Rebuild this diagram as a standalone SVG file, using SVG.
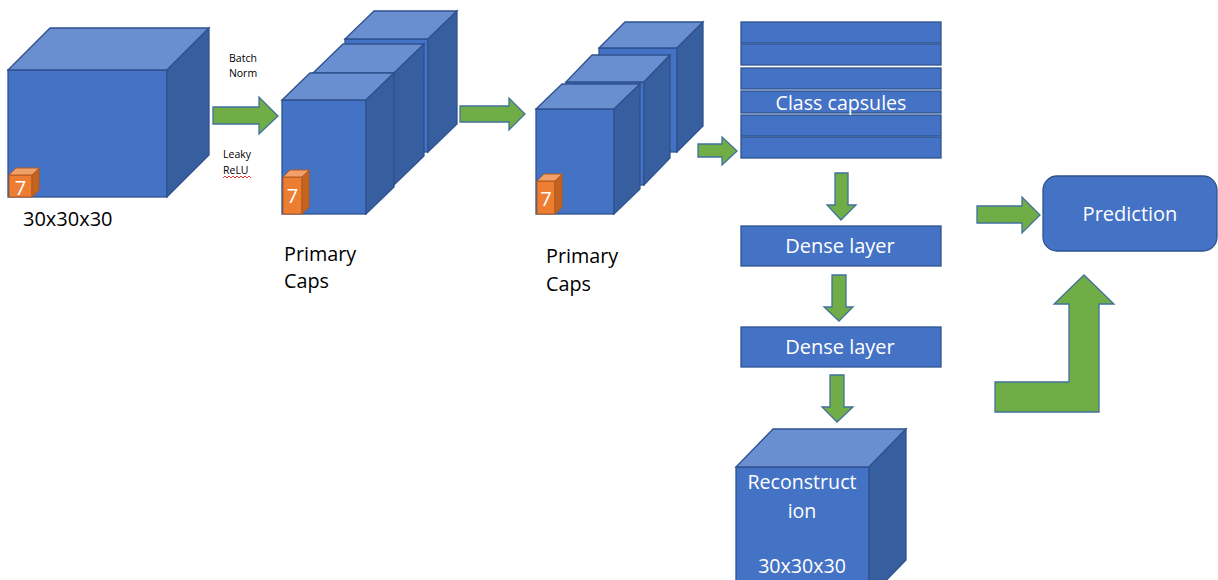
<svg xmlns="http://www.w3.org/2000/svg" width="1218" height="580" viewBox="0 0 1218 580">
<style>
.f{fill:#4472C4;stroke:#2F528F;stroke-width:1.3}
.t{fill:#6A8FD0;stroke:#2F528F;stroke-width:1.3}
.r{fill:#375E9F;stroke:#2F528F;stroke-width:1.3}
.of{fill:#ED7D31;stroke:#AE5A21;stroke-width:1}
.ot{fill:#F1A06A;stroke:#AE5A21;stroke-width:1}
.or{fill:#C4621F;stroke:#AE5A21;stroke-width:1}
.ar{fill:#70AD47;stroke:#41719C;stroke-width:1.3}
.bar{fill:#4472C4;stroke:#2F528F;stroke-width:1.3}
text{font-family:"Open Sans","Noto Sans",sans-serif}
.w{fill:#fff}
.k{fill:#000}
</style>
<rect width="1218" height="580" fill="#fff"/>

<g id="input-cube">
<rect class="f" x="8" y="70" width="159" height="127"/>
<polygon class="t" points="8,70 50,28 209,28 167,70"/>
<polygon class="r" points="167,70 209,28 209,155 167,197"/>
<rect class="of" x="9" y="175" width="23" height="22"/>
<polygon class="ot" points="9,175 16,168 39,168 32,175"/>
<polygon class="or" points="32,175 39,168 39,190 32,197"/>
<text class="w" x="20.5" y="195" font-size="20" text-anchor="middle">7</text>
<text class="k" x="23" y="226" font-size="20">30x30x30</text>
</g>

<g id="bn-label">
<text class="k" x="243" y="62" font-size="10.5" text-anchor="middle">Batch</text>
<text class="k" x="243" y="77" font-size="10.5" text-anchor="middle">Norm</text>
<text class="k" x="223" y="158" font-size="10.5">Leaky</text>
<text class="k" x="223" y="174" font-size="10.5">ReLU</text>
<path d="M223,178 l2,-2 l2,2 l2,-2 l2,2 l2,-2 l2,2 l2,-2 l2,2 l2,-2 l2,2 l2,-2 l2,2 l2,-2 l2,2" fill="none" stroke="#E02020" stroke-width="0.9"/>
</g>

<g id="primary-caps-1">
<rect class="f" x="345" y="39" width="83" height="113"/>
<polygon class="t" points="345,39 374,11 457,11 428,39"/>
<polygon class="r" points="428,39 457,11 457,124 428,152"/>
<rect class="f" x="313" y="73" width="81" height="112"/>
<polygon class="t" points="313,73 343,44 424,44 394,73"/>
<polygon class="r" points="394,73 424,44 424,156 394,185"/>
<rect class="f" x="282" y="100" width="84" height="114"/>
<polygon class="t" points="282,100 310,73 394,73 366,100"/>
<polygon class="r" points="366,100 394,73 394,187 366,214"/>
<rect class="of" x="283" y="177" width="19" height="37"/>
<polygon class="ot" points="283,177 290,170 309,170 302,177"/>
<polygon class="or" points="302,177 309,170 309,207 302,214"/>
<text class="w" x="292.5" y="203" font-size="20" text-anchor="middle">7</text>
<text class="k" x="284" y="261" font-size="19.8">Primary</text>
<text class="k" x="284" y="288" font-size="19.8">Caps</text>
</g>

<g id="primary-caps-2">
<rect class="f" x="599" y="48" width="78" height="104"/>
<polygon class="t" points="599,48 625,22 703,22 677,48"/>
<polygon class="r" points="677,48 703,22 703,126 677,152"/>
<rect class="f" x="566" y="82" width="78" height="103"/>
<polygon class="t" points="566,82 592,55 670,55 644,82"/>
<polygon class="r" points="644,82 670,55 670,158 644,185"/>
<rect class="f" x="536" y="109" width="78" height="105"/>
<polygon class="t" points="536,109 562,84 640,84 614,109"/>
<polygon class="r" points="614,109 640,84 640,189 614,214"/>
<rect class="of" x="537" y="181" width="18" height="33"/>
<polygon class="ot" points="537,181 544,174 562,174 555,181"/>
<polygon class="or" points="555,181 562,174 562,207 555,214"/>
<text class="w" x="546" y="206" font-size="20" text-anchor="middle">7</text>
<text class="k" x="546" y="263" font-size="19.8">Primary</text>
<text class="k" x="546" y="291" font-size="19.8">Caps</text>
</g>

<g id="class-capsules">
<rect class="bar" x="741" y="22" width="200" height="21"/>
<rect class="bar" x="741" y="44" width="200" height="21"/>
<rect class="bar" x="741" y="68" width="200" height="21"/>
<rect class="bar" x="741" y="91" width="200" height="22"/>
<rect class="bar" x="741" y="115" width="200" height="21"/>
<rect class="bar" x="741" y="137" width="200" height="21"/>
<text class="w" x="841" y="110" font-size="19.6" text-anchor="middle">Class capsules</text>
</g>

<g id="dense-1">
<rect class="bar" x="741" y="226" width="200" height="40"/>
<text class="w" x="840" y="253" font-size="20" text-anchor="middle">Dense layer</text>
</g>

<g id="dense-2">
<rect class="bar" x="741" y="327" width="200" height="40"/>
<text class="w" x="840" y="354" font-size="20" text-anchor="middle">Dense layer</text>
</g>

<g id="reconstruction">
<rect class="f" x="736" y="467" width="133" height="130"/>
<polygon class="t" points="736,467 773,429 906,429 869,467"/>
<polygon class="r" points="869,467 906,429 906,560 869,598"/>
<text class="w" x="802" y="489" font-size="19.6" text-anchor="middle">Reconstruct</text>
<text class="w" x="802" y="518" font-size="19.6" text-anchor="middle">ion</text>
<text class="w" x="802" y="573" font-size="19.6" text-anchor="middle">30x30x30</text>
</g>

<g id="prediction">
<rect class="bar" x="1043" y="176" width="174" height="75" rx="14"/>
<text class="w" x="1130" y="221" font-size="20" text-anchor="middle">Prediction</text>
</g>

<g id="connectors">
<polygon class="ar" points="213,107 259,107 259,97 278,116 259,134 259,124 213,124"/>
<polygon class="ar" points="460,106 509,106 509,98 525,114 509,130 509,122 460,122"/>
<polygon class="ar" points="698,144 722,144 722,137 737,151 722,165 722,157 698,157"/>
<polygon class="ar" points="835,173 848,173 848,205 856,205 841,220 827,205 835,205"/>
<polygon class="ar" points="832,275 846,275 846,307 853,307 839,321 824,307 832,307"/>
<polygon class="ar" points="830,375 844,375 844,407 853,407 837,422 822,407 830,407"/>
<polygon class="ar" points="977,206 1022,206 1022,197 1040,215 1022,233 1022,223 977,223"/>
<polygon class="ar" points="995,382 1069,382 1069,304 1054,304 1084,275 1114,304 1099,304 1099,412 995,412"/>
</g>
</svg>
